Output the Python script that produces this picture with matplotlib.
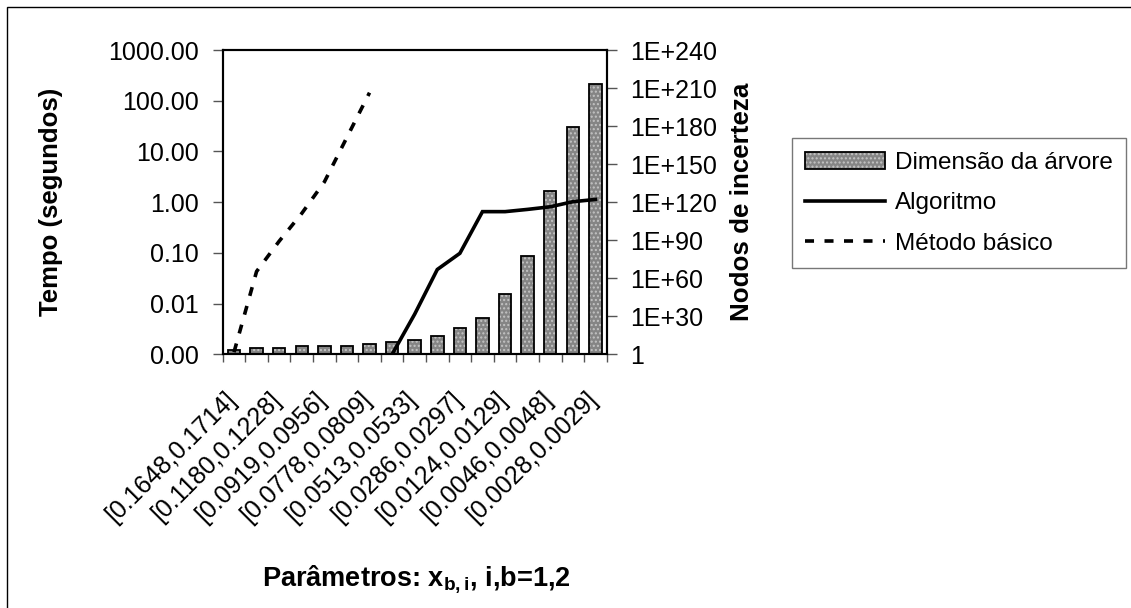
import numpy as np
import matplotlib
matplotlib.use('Agg')
import matplotlib.pyplot as plt
import matplotlib.transforms as mtransforms
from matplotlib.ticker import FixedLocator, FixedFormatter, NullFormatter
from matplotlib.patches import Rectangle

plt.rcParams['font.family'] = ['Liberation Sans', 'DejaVu Sans']
plt.rcParams['mathtext.fontset'] = 'custom'
plt.rcParams['mathtext.rm'] = 'Liberation Sans'
plt.rcParams['mathtext.bf'] = 'Liberation Sans:bold'
plt.rcParams['hatch.linewidth'] = 1.0

# categories (only every other one carries a label in the original)
intervalos = ['[0.1648,0.1714]', '', '[0.1180,0.1228]', '', '[0.0919,0.0956]', '',
              '[0.0778,0.0809]', '', '[0.0513,0.0533]', '', '[0.0286,0.0297]', '',
              '[0.0124,0.0129]', '', '[0.0046,0.0048]', '', '[0.0028,0.0029]']

# Dimensao da arvore (nodos de incerteza, right axis)
dimensao = [2.5e3, 1e5, 1e5, 6e6, 6e6, 6e6, 1e8, 3e9, 2e11, 4e14, 6e20,
            6e28, 5e47, 6e77, 6e128, 3e179, 1.6e213]

# tempos (segundos, left axis)
nan = np.nan
algoritmo = [nan, nan, nan, nan, nan, nan, nan, 0.001, 0.0062, 0.047, 0.098,
             0.65, 0.65, 0.72, 0.81, 1.02, 1.13]
metodo_basico = [0.0011, 0.043, 0.17, 0.6, 2.5, 19, 144, nan, nan, nan, nan,
                 nan, nan, nan, nan, nan, nan]

left_ticks = [0.001, 0.01, 0.1, 1, 10, 100, 1000]
right_exp = [0, 30, 60, 90, 120, 150, 180, 210, 240]

W, H = 1131, 608
fig = plt.figure(figsize=(W / 100, H / 100), dpi=100)
ax = fig.add_axes([222.7 / W, 1 - 354.3 / H, 384 / W, 304.3 / H])
ax2 = ax.twinx()

x = np.arange(len(intervalos))

# bars on the right axis
ax2.set_yscale('log')
b1 = ax2.bar(x, dimensao, width=0.55, bottom=1, color='#858585',
             edgecolor='#c4c4c4', hatch='....', linewidth=0)
b2 = ax2.bar(x, dimensao, width=0.55, bottom=1, fill=False,
             edgecolor='black', linewidth=1.3)
ax2.set_ylim(1, 1e240)
rt = [10.0 ** e for e in right_exp]
ax2.yaxis.set_major_locator(FixedLocator(rt))
ax2.yaxis.set_major_formatter(FixedFormatter(['1'] + ['1E+%d' % e for e in right_exp[1:]]))
ax2.yaxis.set_minor_locator(FixedLocator([]))
ax2.set_ylabel('Nodos de incerteza', fontsize=18.7, fontweight='bold')
ax2.yaxis.set_label_coords(1.321, 0.5)

# lines on the left axis, drawn above the bars
ax.set_zorder(ax2.get_zorder() + 1)
ax.patch.set_visible(False)
ax.set_yscale('log')
l1, = ax.plot(x, algoritmo, color='black', lw=2.6, solid_joinstyle='miter')
l2, = ax.plot(x, metodo_basico, color='black', lw=2.6, dashes=(2.5, 2.9),
              dash_capstyle='butt')
ax.set_ylim(0.001, 1000)
ax.yaxis.set_major_locator(FixedLocator(left_ticks))
ax.yaxis.set_major_formatter(FixedFormatter(['%.2f' % v for v in left_ticks]))
ax.yaxis.set_minor_locator(FixedLocator([]))
ax.set_ylabel('Tempo (segundos)', fontsize=18.5, fontweight='bold')
ax.yaxis.set_label_coords(-0.416, 0.5)

ax.set_xlim(-0.5, len(intervalos) - 0.5)
ax.xaxis.set_major_locator(FixedLocator(np.arange(len(intervalos) + 1) - 0.5))
ax.xaxis.set_major_formatter(NullFormatter())
ax.tick_params(axis='x', which='major', length=6, width=1, color='#555555')

# category labels, rotated 45 degrees and set well below the axis
lab_tr = ax.get_xaxis_transform() + mtransforms.ScaledTranslation(-10 / 100, -33 / 100,
                                                                    fig.dpi_scale_trans)
for i, lab in enumerate(intervalos):
    if lab:
        ax.text(i, 0, lab, transform=lab_tr, rotation=45, ha='right', va='top',
                rotation_mode='anchor', fontsize=18)

ax.tick_params(axis='y', which='major', length=7.5, width=1, color='#555555',
               pad=9.5, labelsize=18)
ax2.tick_params(axis='y', which='major', length=7.5, width=1, color='#555555',
                pad=9.5, labelsize=18)

for a in (ax, ax2):
    for s in a.spines.values():
        s.set_linewidth(1.5)
        s.set_color('black')

fig.text(416.5 / W, 1 - 579 / H, r'Parâmetros: $\mathbf{x}_{\mathbf{b,i}}$, i,b=1,2',
         fontsize=19.5, fontweight='bold', ha='center', va='center')

leg = fig.legend([(b1, b2), l1, l2], ['Dimensão da árvore', 'Algoritmo', 'Método básico'],
                 loc='upper left', bbox_to_anchor=(791.7 / W, 1 - 138.3 / H),
                 fontsize=17.5, frameon=True, fancybox=False, shadow=False,
                 handlelength=3.3, handletextpad=0.4, labelspacing=0.76,
                 borderpad=0.55, borderaxespad=0)
leg.get_frame().set_edgecolor('#555555')
leg.get_frame().set_linewidth(1.0)

# outer chart border (only top and left edges are inside the picture)
fig.add_artist(Rectangle((7 / W, -0.1), 1.2, 1.1 - 7 / H, transform=fig.transFigure,
                         fill=False, edgecolor='black', linewidth=1.0))

fig.savefig('out.png', dpi=100)
